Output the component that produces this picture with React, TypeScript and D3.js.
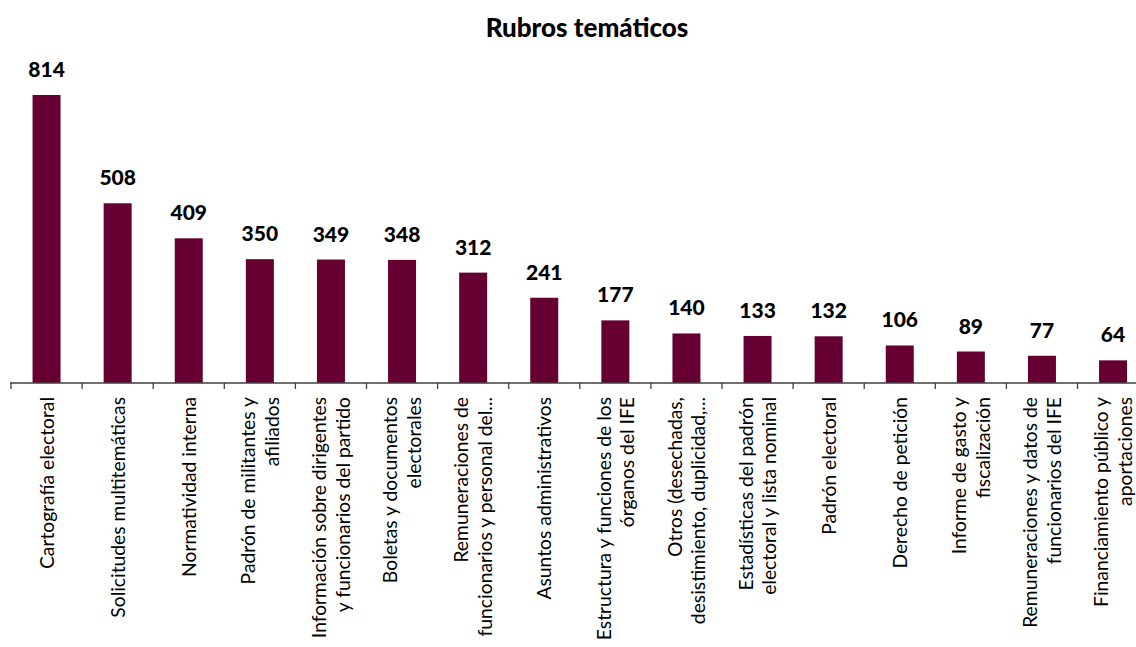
import React from "react";
import * as d3 from "d3";

const categories: string[][] = [
  ["Cartografía electoral"],
  ["Solicitudes multitemáticas"],
  ["Normatividad interna"],
  ["Padrón de militantes y", "afiliados"],
  ["Información sobre dirigentes", "y funcionarios del partido"],
  ["Boletas y documentos", "electorales"],
  ["Remuneraciones de", "funcionarios y personal del..."],
  ["Asuntos administrativos"],
  ["Estructura y funciones de los", "órganos del IFE"],
  ["Otros (desechadas,", "desistimiento, duplicidad,..."],
  ["Estadísticas del padrón", "electoral y lista nominal"],
  ["Padrón electoral"],
  ["Derecho de petición"],
  ["Informe de gasto y", "fiscalización"],
  ["Remuneraciones y datos de", "funcionarios del IFE"],
  ["Financiamiento público y", "aportaciones"],
];
const values: number[] = [814, 508, 409, 350, 349, 348, 312, 241, 177, 140, 133, 132, 106, 89, 77, 64];
const title = "Rubros temáticos";

const W = 1136;
const H = 647;
const FONT = "Lato, 'Open Sans', sans-serif";

export default function App() {
  const x0 = 11;
  const step = 71.1;
  const x = d3
    .scaleBand<number>()
    .domain(values.map((_, i) => i))
    .range([x0, x0 + step * values.length])
    .paddingInner(0)
    .paddingOuter(0);
  const y = d3.scaleLinear().domain([0, 814]).range([383, 95]);
  const barW = 28;
  const lineGap = 23.5;

  return (
    <svg width={W} height={H} style={{ position: "absolute", left: 0, top: 0, background: "#fff" }}>
      <text x={587} y={37} textAnchor="middle" fontFamily={FONT} fontWeight={900} fontSize={26} fill="#000">
        {title}
      </text>
      {values.map((v, i) => {
        const cx = (x(i) as number) + x.bandwidth() / 2;
        return (
          <g key={i}>
            <rect x={cx - barW / 2} y={y(v)} width={barW} height={y(0) - y(v)} fill="#660033" />
            <text x={cx} y={y(v) - 18} textAnchor="middle" fontFamily={FONT} fontWeight={900} fontSize={21} fill="#000">
              {v}
            </text>
          </g>
        );
      })}
      <line x1={10} x2={W} y1={383} y2={383} stroke="#404040" strokeWidth={1.3} />
      {d3.range(values.length + 1).map((i) => {
        const tx = x0 + step * i;
        return <line key={i} x1={tx} x2={tx} y1={383} y2={389} stroke="#404040" strokeWidth={1.3} />;
      })}
      {categories.map((lines, i) => {
        const cx = (x(i) as number) + x.bandwidth() / 2;
        const n = lines.length;
        return (
          <g key={i} transform={`translate(${cx},397) rotate(-90)`}>
            {lines.map((t, j) => {
              const off = (j - (n - 1) / 2) * lineGap;
              return (
                <text key={j} x={0} y={off} dy="0.36em" textAnchor="end" fontFamily={FONT} fontSize={19.3} fill="#000">
                  {t}
                </text>
              );
            })}
          </g>
        );
      })}
    </svg>
  );
}
